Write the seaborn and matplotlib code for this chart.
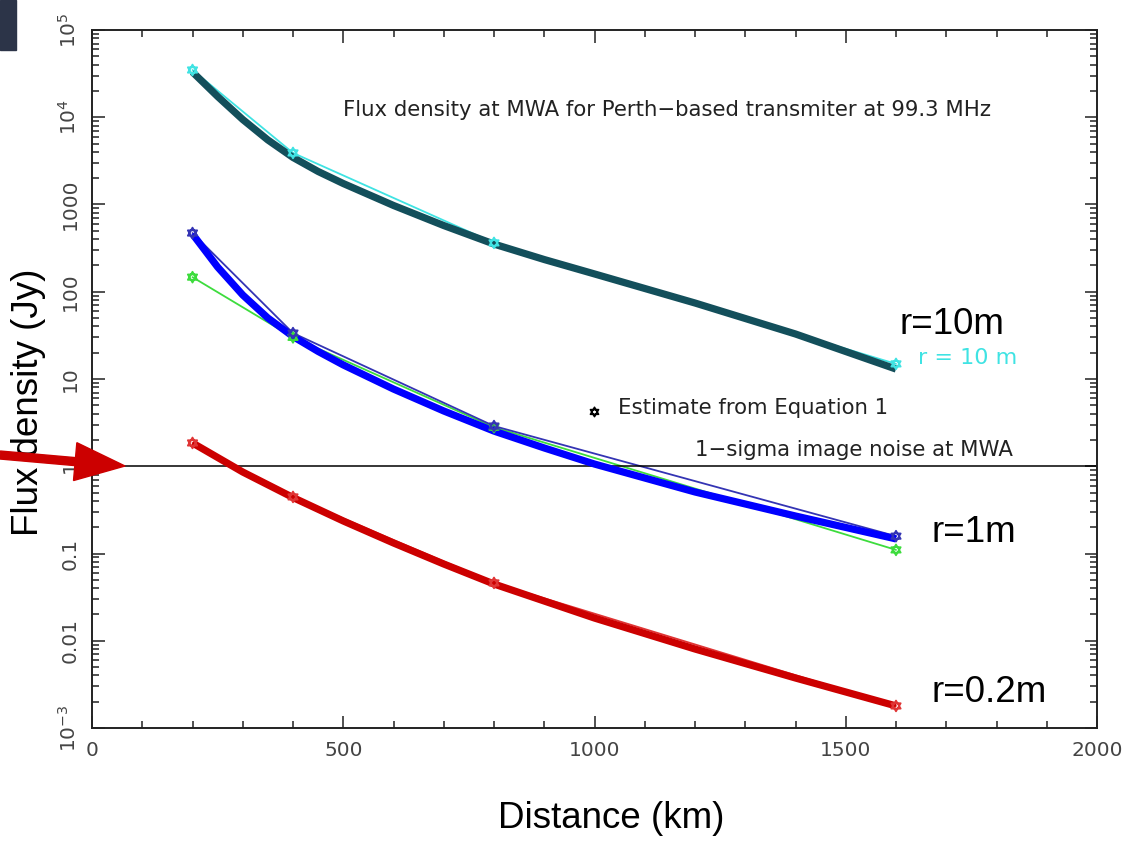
import numpy as np
import pandas as pd
import matplotlib
matplotlib.use("Agg")
import matplotlib.pyplot as plt
from matplotlib.path import Path
from matplotlib.patches import FancyArrow, Rectangle
from matplotlib.ticker import FixedLocator, FixedFormatter, LogLocator, NullFormatter
import seaborn as sns

# ---- data -------------------------------------------------------------
# simulated points (thin lines with star markers)
dist_pts = [200, 400, 800, 1600]
flux_r10_pts = [34800, 3900, 363, 14.9]
flux_r1_pts = [471, 33.6, 2.89, 0.158]
flux_r1_alt_pts = [147, 30.0, 2.80, 0.110]
flux_r02_pts = [1.85, 0.445, 0.046, 0.00179]

# model curves (thick lines)
dist_r10_curve = [200, 250, 300, 350, 400, 450, 500, 600, 700, 800, 900, 1000, 1200, 1400, 1600]
flux_r10_curve = [33000, 17300, 9420, 5490, 3460, 2390, 1740, 975, 574, 352, 234, 160,
                  74.3, 32.8, 13.0]
dist_r1_curve = [200, 250, 300, 350, 400, 450, 500, 600, 700, 800, 900, 1000, 1200, 1400, 1600]
flux_r1_curve = [459, 192, 91.8, 50.0, 30.7, 20.7, 14.5, 7.67, 4.30, 2.53, 1.62, 1.06,
                 0.507, 0.269, 0.147]
dist_r02_curve = [200, 300, 400, 500, 600, 700, 800, 1000, 1200, 1400, 1600]
flux_r02_curve = [1.85, 0.859, 0.438, 0.236, 0.132, 0.0758, 0.0447, 0.0182, 0.00804,
                  0.00374, 0.00179]

# single estimate and image noise level
estimate_dist = [1000]
estimate_flux = [4.19]
noise_level = 1.0

y_tick_vals = [1e-3, 1e-2, 1e-1, 1, 10, 100, 1000, 1e4, 1e5]
y_tick_labels = ["10$^{-3}$", "0.01", "0.1", "1", "10", "100", "1000", "10$^{4}$", "10$^{5}$"]
x_tick_vals = [0, 500, 1000, 1500, 2000]
x_tick_labels = ["0", "500", "1000", "1500", "2000"]

# ---- style ------------------------------------------------------------
sns.set_theme(style="white")
plt.rcParams["font.family"] = ["DejaVu Sans"]

W, H = 1122, 841
fig = plt.figure(figsize=(W / 100, H / 100), dpi=100)
fig.patch.set_facecolor("white")
ax = fig.add_axes([92 / W, 1 - 728 / H, 1005 / W, 698 / H])
ax.set_facecolor("white")

# six-pointed star marker
star_path = Path(
    [(0, 1), (-0.866, -0.5), (0.866, -0.5), (0, 1),
     (0, -1), (0.866, 0.5), (-0.866, 0.5), (0, -1)],
    [Path.MOVETO, Path.LINETO, Path.LINETO, Path.CLOSEPOLY,
     Path.MOVETO, Path.LINETO, Path.LINETO, Path.CLOSEPOLY],
)

pts = pd.DataFrame({"d": dist_pts, "r10": flux_r10_pts, "r1": flux_r1_pts,
                    "r1b": flux_r1_alt_pts, "r02": flux_r02_pts})
curves = [
    (pd.DataFrame({"d": dist_r10_curve, "f": flux_r10_curve}), "#134f5b"),
    (pd.DataFrame({"d": dist_r1_curve, "f": flux_r1_curve}), "#0000ff"),
    (pd.DataFrame({"d": dist_r02_curve, "f": flux_r02_curve}), "#cc0000"),
]

thin = [("r10", "#3fe3e3"), ("r1b", "#3ddc3d"), ("r1", "#3434b4"), ("r02", "#e03535")]

for col, c in thin:
    sns.lineplot(data=pts, x="d", y=col, color=c, lw=1.3, ax=ax, estimator=None,
                 sort=False, zorder=2)
for df, c in curves:
    sns.lineplot(data=df, x="d", y="f", color=c, lw=5.2, ax=ax, estimator=None,
                 sort=False, zorder=3, solid_capstyle="butt", solid_joinstyle="round")
for col, c in thin:
    sns.scatterplot(data=pts, x="d", y=col, marker=star_path, s=60,
                    facecolors="none", edgecolor=c, linewidth=1.3, ax=ax, zorder=4)

est = pd.DataFrame({"d": estimate_dist, "f": estimate_flux})
sns.scatterplot(data=est, x="d", y="f", marker=star_path, s=45, facecolors="none",
                edgecolor="black", linewidth=1.2, ax=ax, zorder=4)

ax.axhline(noise_level, color="black", lw=1.1, zorder=2)

# ---- axes -------------------------------------------------------------
ax.set_yscale("log")
ax.set_xlim(0, 2000)
ax.set_ylim(1e-3, 1e5)

ax.yaxis.set_major_locator(FixedLocator(y_tick_vals))
ax.yaxis.set_major_formatter(FixedFormatter(y_tick_labels))
ax.yaxis.set_minor_locator(LogLocator(base=10, subs=np.arange(2, 10), numticks=20))
ax.yaxis.set_minor_formatter(NullFormatter())
ax.xaxis.set_major_locator(FixedLocator(x_tick_vals))
ax.xaxis.set_major_formatter(FixedFormatter(x_tick_labels))
ax.xaxis.set_minor_locator(FixedLocator(np.arange(0, 2001, 100)))

ax.tick_params(which="both", direction="in", top=True, right=True, bottom=True,
               left=True, color="#222222", width=1.1)
ax.tick_params(which="major", length=9)
ax.tick_params(which="minor", length=5)
ax.tick_params(axis="x", which="major", labelsize=14.5, labelcolor="#444444", pad=9)
ax.tick_params(axis="y", which="major", labelsize=14.5, labelcolor="#444444", pad=9,
               labelrotation=90)
for lab in ax.get_yticklabels():
    lab.set_va("center")

for sp in ax.spines.values():
    sp.set_color("#222222")
    sp.set_linewidth(1.4)

ax.set_xlabel("Distance (km)", fontsize=26.5, family=["Liberation Sans", "DejaVu Sans"],
              color="black")
ax.set_ylabel("Flux density (Jy)", fontsize=26.5, family=["Liberation Sans", "DejaVu Sans"],
              color="black")
ax.xaxis.set_label_coords(0.517, -0.105)
ax.yaxis.set_label_coords(-0.046, 0.467)

# ---- annotations ------------------------------------------------------
small = dict(fontsize=15.3, color="#222222", va="center", ha="left", transform=ax.transAxes)
ax.text(0.25, 0.885, "Flux density at MWA for Perth\u2212based transmiter at 99.3 MHz", **small)
ax.text(0.523, 0.458, "Estimate from Equation 1", **small)
ax.text(0.600, 0.398, "1\u2212sigma image noise at MWA", **small)
ax.text(0.822, 0.530, "r = 10 m", fontsize=16, color="#3fe3e3", va="center", ha="left",
        transform=ax.transAxes)

big = dict(fontsize=26.5, color="black", va="center", ha="left",
           family=["Liberation Sans", "DejaVu Sans"])
fig.text(900 / W, 1 - 325 / H, "r=10m", **big)
fig.text(932 / W, 1 - 533 / H, "r=1m", **big)
fig.text(932 / W, 1 - 692 / H, "r=0.2m", **big)

# pointer arrow toward the noise line
arrow = FancyArrow(0.0, (H - 455) / 100, 1.25, -0.11, width=0.08, head_width=0.38,
                   head_length=0.5, length_includes_head=True, color="#cc0000",
                   transform=fig.dpi_scale_trans, zorder=10)
fig.patches.append(arrow)

# dark slide-corner block
fig.patches.append(Rectangle((0, 1 - 50 / H), 16 / W, 50 / H, transform=fig.transFigure,
                             color="#2c3448", zorder=10))

fig.savefig("out.png", dpi=100)
